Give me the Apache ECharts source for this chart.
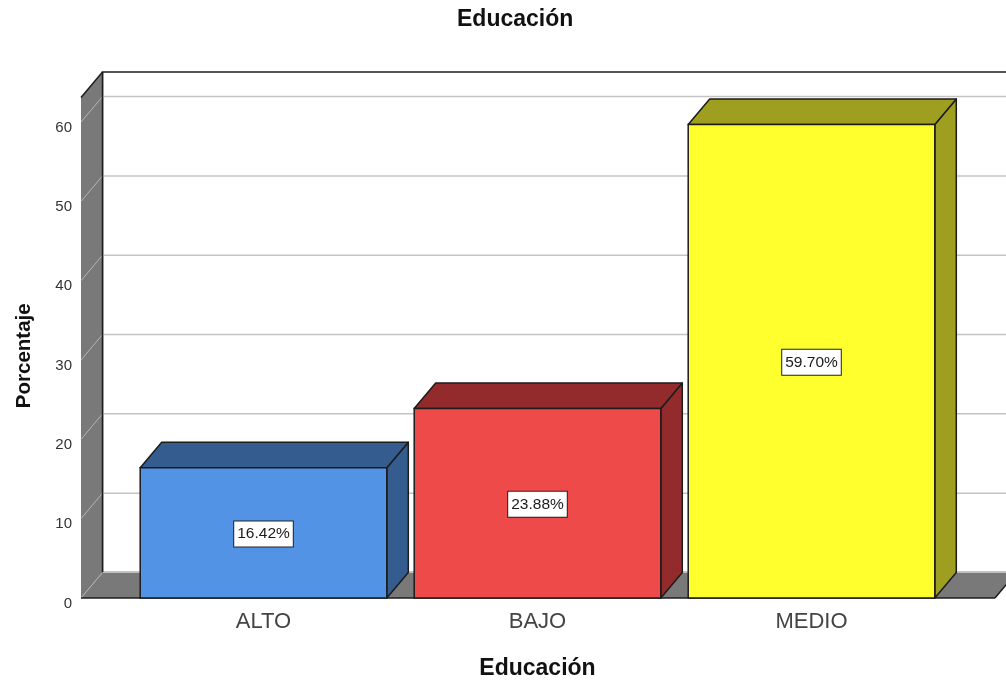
<!DOCTYPE html>
<html>
<head>
<meta charset="utf-8">
<style>html,body{margin:0;padding:0;background:#fff;overflow:hidden}#chart{width:1006px;height:680px}</style>
<script src="https://cdn.jsdelivr.net/npm/echarts@6/dist/echarts.min.js"></script>
</head>
<body>
<div id="chart"></div>
<script>
// Education level shares, in percent
const categories = ['ALTO', 'BAJO', 'MEDIO'];
const percentages = [16.42, 23.88, 59.70];
const gridTicks = [0, 10, 20, 30, 40, 50, 60];
const frontColors = ['#5393E5', '#EF4A4A', '#FFFF2D'];
const shadeColors = ['#345C8F', '#932B2C', '#9E9E20'];

// Extruded box look
const depthX = 21.5;
const depthY = -25.5;
const axisTop = 63.1;
const wallLeftOffset = 45.5;
const wallRightOffset = 46.5;
const outline = '#1c1c1c';
const wallColor = '#797979';
const gridColor = '#c4c4c4';
const fontStack = '"Liberation Sans", Arial, sans-serif';

function poly(points, fill, stroke, width) {
  return { type: 'polygon', shape: { points }, style: { fill, stroke, lineWidth: width, lineJoin: 'round' } };
}
function line(a, b, stroke, width) {
  return { type: 'line', shape: { x1: a[0], y1: a[1], x2: b[0], y2: b[1] }, style: { stroke, lineWidth: width } };
}

// Back wall, side wall, floor and their grid lines
function renderWalls(params, api) {
  const c = params.coordSys;
  const x0 = c.x - wallLeftOffset;
  const x1 = c.x + c.width + wallRightOffset;
  const yBase = api.coord([0, 0])[1];
  const yTop = api.coord([0, axisTop])[1];
  const children = [
    { type: 'rect', shape: { x: x0 + depthX, y: yTop + depthY, width: x1 - x0, height: yBase - yTop },
      style: { fill: '#fff', stroke: outline, lineWidth: 1.5 } },
    poly([[x0, yBase], [x0 + depthX, yBase + depthY], [x0 + depthX, yTop + depthY], [x0, yTop]], wallColor, null, 0),
    poly([[x0, yBase], [x0 + depthX, yBase + depthY], [x1 + depthX, yBase + depthY], [x1, yBase]], wallColor, null, 0)
  ];
  gridTicks.forEach(function (t) {
    const y = api.coord([0, t])[1];
    if (t > 0) children.push(line([x0 + depthX, y + depthY], [x1 + depthX, y + depthY], gridColor, 1.5));
    children.push(line([x0, y], [x0 + depthX, y + depthY], '#b5b5b5', 1));
  });
  children.push(line([x0, yTop], [x0 + depthX, yTop + depthY], outline, 1.5));
  children.push(line([x0 + depthX, yTop + depthY], [x0 + depthX, yBase + depthY], outline, 1.5));
  children.push(line([x0 + depthX, yBase + depthY], [x1 + depthX, yBase + depthY], '#bdbdbd', 1));
  children.push(line([x0, yBase], [x1, yBase], outline, 1.5));
  children.push(line([x1, yBase], [x1 + depthX, yBase + depthY], outline, 1.5));
  return { type: 'group', children };
}

// One extruded bar with its boxed percentage label
function renderBar(params, api) {
  const i = params.dataIndex;
  const value = api.value(1);
  const center = api.coord([api.value(0), 0])[0];
  const half = api.size([1, 0])[0] * 0.45;
  const l = center - half, r = center + half;
  const yBase = api.coord([0, 0])[1];
  const yTop = api.coord([0, value])[1];
  const yMid = api.coord([0, value / 2])[1];
  return {
    type: 'group',
    children: [
      poly([[r, yBase], [r + depthX, yBase + depthY], [r + depthX, yTop + depthY], [r, yTop]], shadeColors[i], outline, 1.5),
      poly([[l, yTop], [l + depthX, yTop + depthY], [r + depthX, yTop + depthY], [r, yTop]], shadeColors[i], outline, 1.5),
      { type: 'rect', shape: { x: l, y: yTop, width: r - l, height: yBase - yTop },
        style: { fill: frontColors[i], stroke: outline, lineWidth: 1.5 } },
      { type: 'text', x: center, y: yMid + 1,
        style: { text: value.toFixed(2) + '%', x: 0, y: 0, align: 'center', verticalAlign: 'middle',
          font: '15.5px ' + fontStack, fill: '#1a1a1a',
          backgroundColor: '#fff', borderColor: '#222', borderWidth: 1, padding: [5, 3, 4, 3] } }
    ]
  };
}

const chart = echarts.init(document.getElementById('chart'), null, { renderer: 'canvas' });
chart.setOption({
  animation: false,
  backgroundColor: '#fff',
  title: {
    text: 'Educación', left: 457, top: 8, padding: 0,
    textStyle: { fontFamily: fontStack, fontSize: 23, fontWeight: 'bold', color: '#111' }
  },
  grid: { left: 126.5, width: 822, top: 97.5, bottom: 82, outerBoundsMode: 'none' },
  xAxis: {
    type: 'category', data: categories,
    name: 'Educación', nameLocation: 'middle', nameGap: 59,
    nameTextStyle: { fontFamily: fontStack, fontSize: 23, fontWeight: 'bold', color: '#111' },
    axisLine: { show: false }, axisTick: { show: false },
    axisLabel: { fontFamily: fontStack, fontSize: 22, color: '#444', margin: 13 }
  },
  yAxis: {
    type: 'value', min: 0, max: axisTop, interval: 10, offset: wallLeftOffset,
    name: 'Porcentaje', nameLocation: 'middle', nameGap: 46, nameRotate: 90,
    nameTextStyle: { fontFamily: fontStack, fontSize: 20.5, fontWeight: 'bold', color: '#111', padding: [0, 16, 0, 0] },
    axisLine: { show: true, lineStyle: { color: '#b5b5b5', width: 1 } },
    axisTick: { show: false },
    splitLine: { show: false },
    axisLabel: { showMaxLabel: false, fontFamily: fontStack, fontSize: 15, color: '#333',
      margin: 9, verticalAlign: 'top', lineHeight: 11 }
  },
  series: [
    { type: 'custom', silent: true, z: 1, renderItem: renderWalls, data: [[0, 0]], encode: { x: 0, y: 1 } },
    { type: 'custom', silent: true, z: 2, renderItem: renderBar, encode: { x: 0, y: 1 },
      data: percentages.map(function (v, i) { return [i, v]; }) }
  ]
});
</script>
</body>
</html>
